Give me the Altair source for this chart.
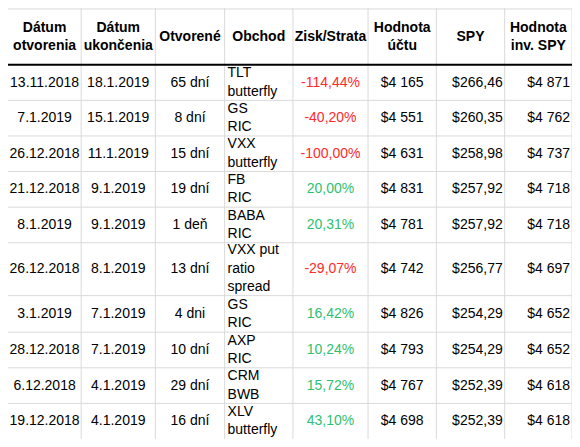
import altair as alt
import pandas as pd
import numpy as np

headers = ["Dátum\notvorenia", "Dátum\nukončenia", "Otvorené", "Obchod",
           "Zisk/Strata", "Hodnota\núčtu", "SPY", "Hodnota\ninv. SPY"]
opened = ["13.11.2018", "7.1.2019", "26.12.2018", "21.12.2018", "8.1.2019",
          "26.12.2018", "3.1.2019", "28.12.2018", "6.12.2018", "19.12.2018"]
closed = ["18.1.2019", "15.1.2019", "11.1.2019", "9.1.2019", "9.1.2019",
          "8.1.2019", "7.1.2019", "7.1.2019", "4.1.2019", "4.1.2019"]
days = ["65 dní", "8 dní", "15 dní", "19 dní", "1 deň",
        "13 dní", "4 dni", "10 dní", "29 dní", "16 dní"]
trades = ["TLT\nbutterfly", "GS\nRIC", "VXX\nbutterfly", "FB\nRIC", "BABA\nRIC",
          "VXX put\nratio\nspread", "GS\nRIC", "AXP\nRIC", "CRM\nBWB", "XLV\nbutterfly"]
pnl = [-114.44, -40.20, -100.00, 20.00, 20.31, -29.07, 16.42, 10.24, 15.72, 43.10]
account = [4165, 4551, 4631, 4831, 4781, 4742, 4826, 4793, 4767, 4698]
spy = [266.46, 260.35, 258.98, 257.92, 257.92, 256.77, 254.29, 254.29, 252.39, 252.39]
spy_inv = [4871, 4762, 4737, 4718, 4718, 4697, 4652, 4652, 4618, 4618]

# ---- layout (reference pixel units) ----
col_w = [75, 76, 71, 70, 77, 70, 70, 69]
header_h = 59
row_h = [37, 37, 37, 37, 37, 55, 38, 37, 37, 37]
col_align = ["center", "center", "center", "left", "center", "center", "right", "right"]
LINE_REF = 19.5      # line spacing in reference units
RED = "#ff2a2a"
GREEN = "#2fbf6f"
GRID = "#dadada"
FONT = "Liberation Sans"

col_edges = np.concatenate([[0], np.cumsum(col_w)])
row_edges = np.concatenate([[0, header_h], header_h + np.cumsum(row_h)])
TOTAL_W = float(col_edges[-1])
TOTAL_H = float(row_edges[-1])


def fmt_pct(v):
    return f"{v:.2f}".replace(".", ",") + "%"


def fmt_money(v):
    return "$" + f"{v:,}".replace(",", " ")


def fmt_spy(v):
    return "$" + f"{v:.2f}".replace(".", ",")


def first_line_y(center, text):
    n = text.count("\n") + 1
    return center - (n - 1) / 2 * LINE_REF


columns = [
    opened, closed, days, trades,
    [fmt_pct(v) for v in pnl],
    [fmt_money(v) for v in account],
    [fmt_spy(v) for v in spy],
    [fmt_money(v) for v in spy_inv],
]

records = []
for c, h in enumerate(headers):
    records.append(dict(x=(col_edges[c] + col_edges[c + 1]) / 2,
                        y=first_line_y(header_h / 2 + 1, h), text=h, color="#000000",
                        align="center", kind="header"))
for r in range(len(opened)):
    yc = (row_edges[r + 1] + row_edges[r + 2]) / 2
    for c in range(len(headers)):
        a = col_align[c]
        if a == "left":
            x = col_edges[c] + 3
        elif a == "right":
            x = col_edges[c + 1] - 2
        else:
            x = (col_edges[c] + col_edges[c + 1]) / 2
        color = "#000000"
        if c == 4:
            color = RED if pnl[r] < 0 else GREEN
        t = columns[c][r]
        records.append(dict(x=x, y=first_line_y(yc, t), text=t, color=color,
                            align=a, kind="body"))
cells = pd.DataFrame(records)

vlines = pd.DataFrame({"x": col_edges[1:], "y": 0.0, "y2": TOTAL_H})
hlines = pd.DataFrame({"y": [1.0] + list(row_edges[2:-1]), "x": 0.0, "x2": TOTAL_W})
thick = pd.DataFrame({"y": [header_h], "x": [0.0], "x2": [TOTAL_W]})

xs = alt.Scale(domain=[0, TOTAL_W], nice=False, zero=False)
ys = alt.Scale(domain=[TOTAL_H, 0], nice=False, zero=False)

v_rules = alt.Chart(vlines).mark_rule(color=GRID, strokeWidth=1).encode(
    x=alt.X("x:Q", scale=xs, axis=None),
    y=alt.Y("y:Q", scale=ys, axis=None),
    y2="y2:Q",
)
h_rules = alt.Chart(hlines).mark_rule(color=GRID, strokeWidth=1).encode(
    x=alt.X("x:Q", scale=xs, axis=None),
    x2="x2:Q",
    y=alt.Y("y:Q", scale=ys, axis=None),
)
thick_rule = alt.Chart(thick).mark_rule(color="#000000", strokeWidth=2).encode(
    x=alt.X("x:Q", scale=xs, axis=None),
    x2="x2:Q",
    y=alt.Y("y:Q", scale=ys, axis=None),
)


def text_layer(kind, align, bold):
    return alt.Chart(cells).transform_filter(
        (alt.datum.kind == kind) & (alt.datum.align == align)
    ).mark_text(
        align=align, baseline="middle", font=FONT, fontSize=14,
        fontWeight="bold" if bold else "normal",
        lineBreak="\n", lineHeight=18.5,
    ).encode(
        x=alt.X("x:Q", scale=xs, axis=None),
        y=alt.Y("y:Q", scale=ys, axis=None),
        text="text:N",
        color=alt.Color("color:N", scale=None),
    )


chart = alt.layer(
    v_rules, h_rules, thick_rule,
    text_layer("header", "center", True),
    text_layer("body", "center", False),
    text_layer("body", "left", False),
    text_layer("body", "right", False),
).properties(
    width=564, height=431, padding=0, autosize="none", background="white"
).configure_view(stroke=None)

chart.save("out.html", embed_options={"renderer": "svg", "actions": False})
